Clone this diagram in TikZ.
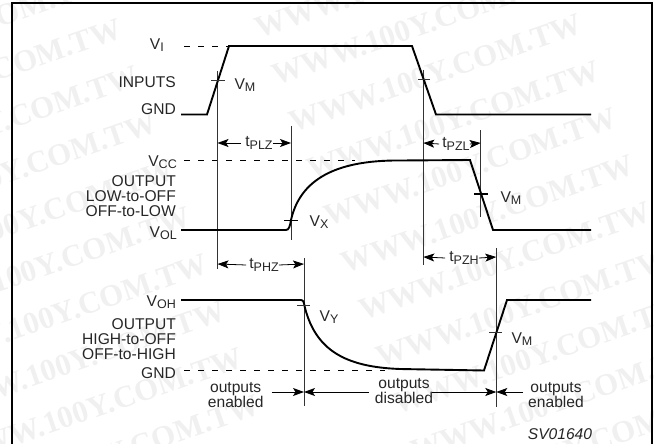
\documentclass[tikz,border=0pt]{standalone}
\usepackage{fontspec}
\setmainfont{Liberation Sans}
\newfontfamily\markfont{Liberation Serif}
\usetikzlibrary{arrows.meta}
\newcommand{\vsub}[2]{#1\raisebox{-0.3ex}{\fontsize{12.5}{12.5}\selectfont #2}}
\tikzset{
    wave/.style={line width=1.9pt},
    guide/.style={line width=0.8pt, black!80},
    level/.style={line width=0.7pt, dash pattern=on 6pt off 8pt},
    timing/.style={line width=0.8pt, -{Stealth[length=11pt,width=8pt,inset=2.5pt]}},
    lab/.style={inner sep=0pt, font=\fontsize{15.6}{15}\selectfont, text=black!85},
    rlab/.style={lab, anchor=east, align=right},
    stamp/.style={inner sep=0pt, font=\markfont\bfseries\fontsize{31}{31}\selectfont, text=black!6, rotate=19, anchor=east}
}
\begin{document}
\begin{tikzpicture}[x=1pt,y=-1pt]
    \useasboundingbox (0,0) rectangle (654,444);
    \foreach \i in {-2,...,7} {
        \node[stamp] (markA\i) at ({138+17.3*\i},{75+47*\i}) {WWW.100Y.COM.TW};
    }
    \foreach \i in {-2,...,8} {
        \node[stamp] (markB\i) at ({581+17.3*\i},{23+47*\i}) {WWW.100Y.COM.TW};
    }
    \draw[line width=2pt] (12,444) -- (12,3) -- (652,3) -- (652,444);
    \draw[level] (184,46) -- (229,46);
    \draw[level] (184,160) -- (355,160);
    \draw[level] (184,370.5) -- (385,370.5);
    \draw[guide] (217.5,71) -- (217.5,269);
    \draw[guide] (291,126) -- (291,240);
    \draw[guide] (304,258) -- (304,406);
    \draw[guide] (423.3,70) -- (423.3,265);
    \draw[guide] (480.7,130) -- (480.7,217);
    \draw[guide] (496.3,248) -- (496.3,407);
    \draw[wave] (181,114.5) -- (207,114.5) -- (229,46) -- (412,46) -- (436,114.5) -- (591,114.5);
    \draw[wave] (181,230) -- (286,230) .. controls (289,230) and (290,226) .. (291,220) .. controls (300,180) and (335,160) .. (400,160.5) -- (470,160) -- (493,230) -- (591,230);
    \draw[wave] (181,300) -- (301,300) .. controls (304,300) and (304,304) .. (305,308) .. controls (316,350) and (345,367) .. (400,369) -- (484,370.5) -- (507,300) -- (591,300);
    \draw[guide] (211,80) -- (225,80);
    \draw[guide] (418,79) -- (430,79);
    \draw[guide] (297,305) -- (310,305);
    \draw[guide] (489,332) -- (502,332);
    \draw[wave] (284,220.5) -- (298,220.5);
    \draw[wave] (474,194) -- (488,194);
    \node[rlab] (vi) at (164,45) {\vsub{V}{I}};
    \node[rlab] (inputs) at (176,82) {INPUTS};
    \node[rlab] (gnda) at (176,109) {GND};
    \node[rlab] (vcc) at (177,162) {\vsub{V}{CC}};
    \node[rlab] (outlow) at (176,196) {OUTPUT\\LOW-to-OFF\\OFF-to-LOW};
    \node[rlab] (vol) at (177,233) {\vsub{V}{OL}};
    \node[rlab] (voh) at (176,302) {\vsub{V}{OH}};
    \node[rlab] (outhigh) at (176,339) {OUTPUT\\HIGH-to-OFF\\OFF-to-HIGH};
    \node[rlab] (gndb) at (176,373) {GND};
    \node[lab] (vma) at (245,85) {\vsub{V}{M}};
    \node[lab] (vmb) at (511,198) {\vsub{V}{M}};
    \node[lab] (vmc) at (522,339) {\vsub{V}{M}};
    \node[lab] (vx) at (319,222) {\vsub{V}{X}};
    \node[lab] (vy) at (329,317) {\vsub{V}{Y}};
    \node[lab] (tplz) at (259,143) {\vsub{t}{PLZ}};
    \node[lab] (tpzl) at (456,144) {\vsub{t}{PZL}};
    \node[lab] (tphz) at (264,265) {\vsub{t}{PHZ}};
    \node[lab] (tpzh) at (464,258) {\vsub{t}{PZH}};
    \draw[timing] (tplz.west) ++(-4,0) -- (217.5,143);
    \draw[timing] (tplz.east) -- (291,143);
    \draw[timing] (tpzl.west) ++(-3,0) -- (423.3,143);
    \draw[timing] (tpzl.east) -- (480.7,143);
    \draw[timing] (tphz.west) ++(-3,0) -- (217.5,264);
    \draw[timing] (tphz.east) -- (304,264);
    \draw[timing] (tpzh.west) ++(-4,0) -- (423.3,257);
    \draw[timing] (tpzh.east) -- (496.3,257);
    \node[lab, align=center] (enableda) at (235.7,395.5) {outputs\\enabled};
    \node[lab, align=center] (disabled) at (404,391.5) {outputs\\disabled};
    \node[lab, align=center] (enabledb) at (556,395.5) {outputs\\enabled};
    \draw[timing] (enableda.east) ++(8,-3.5) -- (304,392);
    \draw[timing] (disabled.west) ++(-6,0.5) -- (304,392);
    \draw[timing] (disabled.east) ++(-1,0.5) -- (496.3,392);
    \draw[timing] (enabledb.west) ++(-5,-3.5) -- (496.3,392);
    \node[lab] (code) at (560,434) {\itshape SV01640};
\end{tikzpicture}
\end{document}
